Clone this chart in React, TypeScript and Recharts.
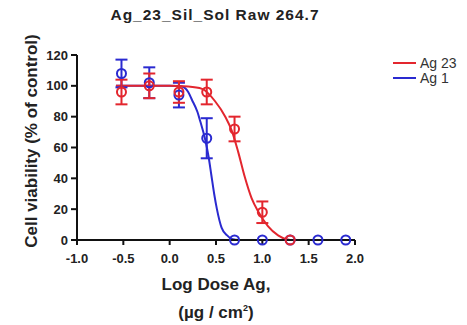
import { ComposedChart, Line, Scatter, ErrorBar, XAxis, YAxis } from "recharts";

const RED = "#e3262e";
const BLUE = "#2a2ad0";

// log dose (µg/cm²) of the measured points
const ag23Dose = [-0.52, -0.22, 0.1, 0.4, 0.7, 1.0, 1.3];
const ag23Mean = [96, 100, 96, 96, 72, 18, 0];
const ag23Err = [8, 8, 7, 8, 8, 7, 0];

const ag1Dose = [-0.52, -0.22, 0.1, 0.4, 0.7, 1.0, 1.3, 1.6, 1.9];
const ag1Mean = [108, 102, 94, 66, 0, 0, 0, 0, 0];
const ag1Err = [9, 10, 8, 13, 0, 0, 0, 0, 0];

// fitted curves
const ag23FitX = [-0.58, 0.0, 0.2, 0.35, 0.49, 0.6, 0.67, 0.74, 0.81, 0.885, 0.96, 1.06, 1.17, 1.26, 1.3];
const ag23FitY = [100, 100, 99.5, 98, 90, 80, 71, 57, 41, 27, 18, 9, 3, 0.5, 0];

const ag1FitX = [-0.58, 0.0, 0.13, 0.2, 0.24, 0.3, 0.33, 0.38, 0.42, 0.45, 0.48, 0.51, 0.56, 0.62, 0.67, 0.75, 1.0, 1.92];
const ag1FitY = [100, 100, 99.5, 96, 91, 83, 77, 66, 54, 42, 30, 20, 8, 3, 0.7, 0, 0, 0];

const xTicks = [-1, -0.5, 0, 0.5, 1, 1.5, 2];
const yTicks = [0, 20, 40, 60, 80, 100, 120];

const ag23Points = ag23Dose.map((x, i) => ({ x, y: ag23Mean[i], err: ag23Err[i] }));
const ag1Points = ag1Dose.map((x, i) => ({ x, y: ag1Mean[i], err: ag1Err[i] }));
const ag23Fit = ag23FitX.map((x, i) => ({ x, y: ag23FitY[i] }));
const ag1Fit = ag1FitX.map((x, i) => ({ x, y: ag1FitY[i] }));

const font = "'Liberation Sans', Arial, sans-serif";

const ring = (color: string) => (p: any) => (
  <circle cx={p.cx} cy={p.cy} r={4.5} fill="none" stroke={color} strokeWidth={2} />
);

const legendItems = [
  { name: "Ag 23", color: RED },
  { name: "Ag 1", color: BLUE },
];

export default function App() {
  return (
    <div style={{ position: "absolute", left: 0, top: 0, width: 467, height: 325, background: "#fff", fontFamily: font }}>
      <div
        style={{
          position: "absolute",
          left: 0,
          width: 430,
          top: 6,
          textAlign: "center",
          fontWeight: "bold",
          fontSize: 15.5,
          letterSpacing: 1,
          color: "#222",
        }}
      >
        Ag_23_Sil_Sol Raw 264.7
      </div>
      <div style={{ position: "absolute", left: 393, top: 55, fontSize: 14, color: "#333", zIndex: 2 }}>
        {legendItems.map((it) => (
          <div key={it.name} style={{ display: "flex", alignItems: "center", height: 15 }}>
            <span style={{ display: "inline-block", width: 23, height: 2, background: it.color, marginRight: 4 }} />
            {it.name}
          </div>
        ))}
      </div>
      <ComposedChart width={467} height={325} margin={{ top: 55, right: 112, left: 37, bottom: 55 }}>
        <XAxis
          dataKey="x"
          type="number"
          domain={[-1, 2]}
          ticks={xTicks}
          allowDataOverflow
          tickFormatter={(v: number) => v.toFixed(1)}
          axisLine={{ stroke: "#111", strokeWidth: 2 }}
          tickLine={{ stroke: "#111", strokeWidth: 2 }}
          tickSize={5}
          tickMargin={9}
          tick={{ fontSize: 13, fontWeight: "bold", fill: "#222", fontFamily: font }}
          height={30}
          label={{
            content: () => (
              <g fontFamily={font} fontWeight="bold" fontSize={17} fill="#222" textAnchor="middle">
                <text x={216} y={290}>Log Dose Ag,</text>
                <text x={216} y={318}>
                  (µg / cm<tspan fontSize={9} dy={-7}>2</tspan>
                  <tspan dy={7}>)</tspan>
                </text>
              </g>
            ),
          }}
        />
        <YAxis
          type="number"
          domain={[0, 120]}
          ticks={yTicks}
          axisLine={{ stroke: "#111", strokeWidth: 2 }}
          tickLine={{ stroke: "#111", strokeWidth: 2 }}
          tickSize={6}
          tickMargin={3}
          tick={{ fontSize: 13, fontWeight: "bold", fill: "#222", fontFamily: font }}
          width={40}
          label={{
            content: () => (
              <text
                x={31}
                y={141}
                transform="rotate(-90 31 141)"
                textAnchor="middle"
                dominantBaseline="central"
                fontFamily={font}
                fontWeight="bold"
                fontSize={17}
                fill="#222"
              >
                Cell viability (% of control)
              </text>
            ),
          }}
        />
        <Line
          data={ag1Fit}
          dataKey="y"
          type="monotone"
          stroke={BLUE}
          strokeWidth={2}
          dot={false}
          isAnimationActive={false}
        />
        <Line
          data={ag23Fit}
          dataKey="y"
          type="monotone"
          stroke={RED}
          strokeWidth={2}
          dot={false}
          isAnimationActive={false}
        />
        <Scatter data={ag1Points} dataKey="y" shape={ring(BLUE)} isAnimationActive={false}>
          <ErrorBar dataKey="err" direction="y" width={6} stroke={BLUE} strokeWidth={2} />
        </Scatter>
        <Scatter data={ag23Points} dataKey="y" shape={ring(RED)} isAnimationActive={false}>
          <ErrorBar dataKey="err" direction="y" width={6} stroke={RED} strokeWidth={2} />
        </Scatter>
      </ComposedChart>
    </div>
  );
}
